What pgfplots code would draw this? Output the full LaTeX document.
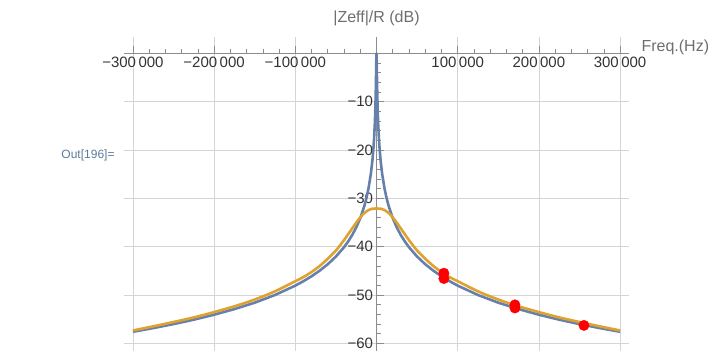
\documentclass[border=0pt]{standalone}
\usepackage{fontspec}
\setmainfont{Liberation Sans}
\usepackage{pgfplots}
\pgfplotsset{compat=1.18}
\definecolor{mblue}{HTML}{6680AC}
\definecolor{myellow}{HTML}{E0A22E}
\definecolor{gridgray}{HTML}{D4D4D4}
\definecolor{axgray}{HTML}{8C8C8C}
\definecolor{ticktext}{HTML}{333333}
\definecolor{labgray}{HTML}{6E6E6E}
\definecolor{outblue}{HTML}{5B7B9A}
\begin{document}
\begin{tikzpicture}
\begin{axis}[
  scale only axis, width=505bp, height=314bp,
  xmin=-311000, xmax=311000, ymin=-61.5, ymax=3.5,
  axis lines=middle,
  axis line style={-, draw=axgray, line width=0.7pt},
  scaled x ticks=false, scaled y ticks=false,
  xtick={-300000,-200000,-100000,100000,200000,300000},
  xticklabels={−300\,000,−200\,000,−100\,000,100\,000,200\,000,300\,000},
  minor xtick={-280000,-260000,-240000,-220000,-180000,-160000,-140000,-120000,-80000,-60000,-40000,-20000,20000,40000,60000,80000,120000,140000,160000,180000,220000,240000,260000,280000},
  ytick={-60,-50,-40,-30,-20,-10},
  yticklabels={−60,−50,−40,−30,−20,−10},
  minor ytick={-58,-56,-54,-52,-48,-46,-44,-42,-38,-36,-34,-32,-28,-26,-24,-22,-18,-16,-14,-12,-8,-6,-4,-2},
  tick align=inside,
  major tick length=7bp, minor tick length=4bp,
  tick style={draw=axgray, line width=0.6pt},
  grid=major, major grid style={draw=gridgray, line width=0.6pt},
  tick label style={font=\fontsize{15bp}{17bp}\selectfont, text=ticktext},
]
\addplot[mblue, line width=2.6bp, line join=round] coordinates {
(-300000,-57.62) (-275000,-56.86) (-250000,-56.03) (-225000,-55.12) (-200000,-54.09)
(-175000,-52.93) (-150000,-51.60) (-125000,-50.01) (-100000,-48.07) (-90000,-47.15)
(-80000,-46.14) (-70000,-44.97) (-60000,-43.64) (-50000,-42.05) (-40000,-40.12)
(-35000,-38.95) (-30000,-37.62) (-25000,-36.03) (-20000,-34.10) (-15000,-31.60)
(-12500,-30.01) (-10000,-28.08) (-7000,-24.99) (-5000,-22.08) (-4000,-20.15)
(-3000,-17.69) (-2000,-14.26) (-1500,-11.88) (-1000,-8.70) (-800,-7.08)
(-600,-5.20) (-400,-3.07) (-300,-1.98) (-200,-0.99) (-100,-0.27) (0,0)
(100,-0.27) (200,-0.99) (300,-1.98) (400,-3.07) (600,-5.20) (800,-7.08)
(1000,-8.70) (1500,-11.88) (2000,-14.26) (3000,-17.69) (4000,-20.15)
(5000,-22.08) (7000,-24.99) (10000,-28.08) (12500,-30.01) (15000,-31.60)
(20000,-34.10) (25000,-36.03) (30000,-37.62) (35000,-38.95) (40000,-40.12)
(50000,-42.05) (60000,-43.64) (70000,-44.97) (80000,-46.14) (90000,-47.15)
(100000,-48.07) (125000,-50.01) (150000,-51.60) (175000,-52.93) (200000,-54.09)
(225000,-55.12) (250000,-56.03) (275000,-56.86) (300000,-57.62)
};
\addplot[myellow, line width=2.6bp, line join=round, smooth] coordinates {
(-300000,-57.35) (-275000,-56.50) (-250000,-55.60) (-225000,-54.65) (-200000,-53.55)
(-175000,-52.35) (-150000,-50.95) (-125000,-49.25) (-100000,-47.15) (-90000,-46.30)
(-80000,-45.25) (-70000,-44.00) (-60000,-42.50) (-50000,-40.80) (-45000,-39.75)
(-40000,-38.65) (-35000,-37.45) (-30000,-36.25) (-25000,-35.05) (-20000,-33.95)
(-15000,-33.05) (-10000,-32.45) (-5000,-32.15) (0,-32.10)
(5000,-32.15) (10000,-32.45) (15000,-33.05) (20000,-33.95) (25000,-35.05)
(30000,-36.25) (35000,-37.45) (40000,-38.65) (45000,-39.75) (50000,-40.80)
(60000,-42.50) (70000,-44.00) (80000,-45.25) (90000,-46.30) (100000,-47.15)
(125000,-49.25) (150000,-50.95) (175000,-52.35) (200000,-53.55) (225000,-54.65)
(250000,-55.60) (275000,-56.50) (300000,-57.35)
};
\addplot[only marks, mark=*, mark size=5.2bp, color=red, mark options={draw=red, fill=red}] coordinates {
(83000,-45.5) (83000,-46.6) (170500,-52.05) (170500,-52.7) (255500,-56.3)
};
\coordinate (ylab) at (axis description cs:0.5,1);
\coordinate (xlab) at (axis description cs:1,0.9462);
\end{axis}
\node[font=\fontsize{16bp}{18bp}\selectfont, text=labgray, yshift=18bp] at (ylab) {|Zeff|/R (dB)};
\node[font=\fontsize{16bp}{18bp}\selectfont, text=labgray, anchor=west, xshift=9bp, yshift=6bp] at (xlab) {Freq.(Hz)};
\node[font=\fontsize{12bp}{14bp}\selectfont, text=outblue] at (-36bp,195.5bp) {Out[196]=};
\path[use as bounding box] (-124bp,-1.5bp) rectangle (597bp,350.5bp);
\end{tikzpicture}
\end{document}
